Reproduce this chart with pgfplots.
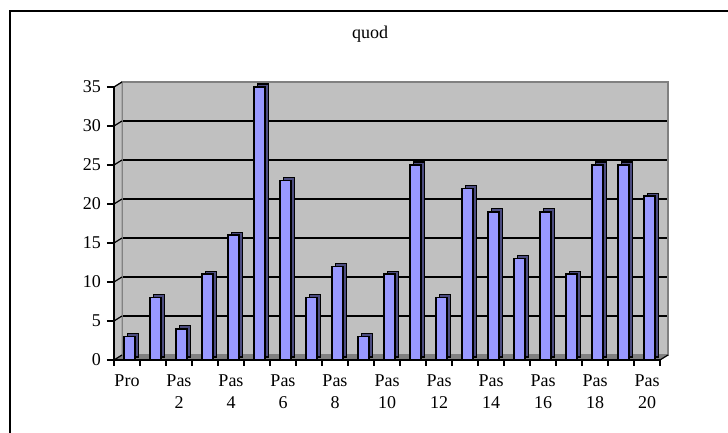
\documentclass[border=0pt]{standalone}
\usepackage{pgfplots}
\pgfplotsset{compat=1.18}
\usepackage{pgfplotstable}
\usepackage{fontspec}
\setmainfont{Liberation Serif}
\definecolor{wall}{HTML}{C0C0C0}
\definecolor{wallline}{HTML}{808080}
\definecolor{barface}{HTML}{9999FF}
\definecolor{barside}{HTML}{4C4C80}
\pgfplotstableread{
x y
0 3
1 8
2 4
3 11
4 16
5 35
6 23
7 8
8 12
9 3
10 11
11 25
12 8
13 22
14 19
15 13
16 19
17 11
18 25
19 25
20 21
}\datatable
\begin{document}
\fontsize{18}{22}\selectfont
\begin{tikzpicture}[x=1pt,y=1pt]
\useasboundingbox (0,0) rectangle (728,433);
\draw[line width=2pt] (10,0) -- (10,422) -- (728,422);
\node[font=\fontsize{18}{22}\selectfont] at (370,399) {quod};
% back wall
\begin{axis}[
  at={(122pt,78pt)}, anchor=south west, scale only axis,
  width=546pt, height=273pt,
  xmin=-0.5, xmax=20.5, ymin=0, ymax=35,
  axis background/.style={fill=wall},
  axis line style={draw=wallline, line width=2pt},
  xtick=\empty, ytick={5,10,...,30}, yticklabels={},
  major tick length=0pt,
  ymajorgrids, grid style={black, line width=1.4pt},
]
\end{axis}
% floor and side wall
\fill[wallline] (114,73) -- (660,73) -- (668,78) -- (122,78) -- cycle;
\filldraw[fill=wall, draw=wallline, line width=1pt] (114,73) -- (122,78) -- (122,351) -- (114,346) -- cycle;
\foreach \v in {5,10,...,35} {
  \draw[black, line width=1.2pt] (114,{73+\v*7.8}) -- (122,{78+\v*7.8});
}
\draw[black, line width=1.2pt] (114,73) -- (122,78);
\draw[black, line width=1.2pt] (660,73) -- (668,78);
% bar sides
\begin{axis}[
  at={(117.5pt,76pt)}, anchor=south west, scale only axis,
  width=546pt, height=273pt,
  xmin=-0.5, xmax=20.5, ymin=0, ymax=35,
  hide axis, clip=false,
  ybar, bar width=11pt, bar shift=2.5pt,
]
\addplot[fill=barside, draw=black, line width=1.2pt] table[x=x,y=y] {\datatable};
\end{axis}
% front bars and axes
\begin{axis}[
  at={(114pt,73pt)}, anchor=south west, scale only axis,
  width=546pt, height=273pt,
  xmin=-0.5, xmax=20.5, ymin=0, ymax=35,
  clip=false,
  axis x line*=bottom, axis y line*=left,
  axis line style={black, line width=1.2pt, -},
  ybar, bar width=11pt, bar shift=2.5pt,
  ytick={0,5,...,35},
  xtick={0,2,...,20},
  xticklabels={Pro,Pas\\2,Pas\\4,Pas\\6,Pas\\8,Pas\\10,Pas\\12,Pas\\14,Pas\\16,Pas\\18,Pas\\20},
  minor xtick={-0.5,0.5,...,20.5},
  tick align=outside,
  major tick length=7pt, minor tick length=6pt,
  major x tick style={draw=none},
  major y tick style={black, line width=1.2pt},
  minor x tick style={black, line width=1.2pt},
  tick pos=left,
  /pgf/number format/assume math mode=true,
  ticklabel style={font=\fontsize{18}{22}\selectfont},
  xticklabel style={align=center, yshift=-2pt},
]
\addplot[fill=barface, draw=black, line width=1.5pt] table[x=x,y=y] {\datatable};
\end{axis}
\end{tikzpicture}
\end{document}
